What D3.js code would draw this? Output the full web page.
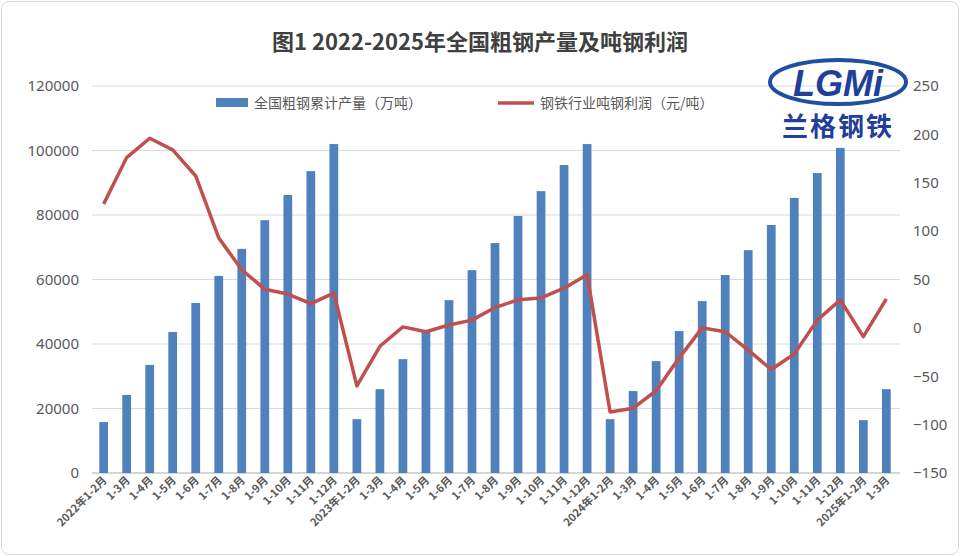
<!DOCTYPE html>
<html><head><meta charset="utf-8">
<script src="https://cdn.jsdelivr.net/npm/d3@7"></script>
<style>body{margin:0;background:#fff;font-family:"Noto Sans CJK SC","Noto Sans",sans-serif;}</style>
</head><body><svg id="c" width="960" height="556"></svg>
<script>
// chart data
var years = ["2022年", "2023年", "2024年", "2025年"];
var months = ["1-2月","1-3月","1-4月","1-5月","1-6月","1-7月","1-8月","1-9月","1-10月","1-11月","1-12月"];
var categories = [];
years.forEach(function (y, i) {
  var ms = i === 3 ? months.slice(0, 2) : months;
  ms.forEach(function (m, j) { categories.push(j === 0 ? y + m : m); });
});
var output = [15800,24200,33500,43700,52700,61100,69500,78400,86200,93600,102000,
  16700,26000,35300,44300,53600,62900,71300,79700,87400,95500,102000,
  16700,25400,34700,44000,53300,61400,69100,76900,85300,93000,100800,
  16400,26000];
var profit = [128,176,196,184,157,93,60,40,35,25,36,
  -60,-19,1,-4,3,8,21,29,31,41,55,
  -87,-83,-65,-31,0,-4,-23,-43,-27,8,29,
  -9,30];
var leftTicks = [0,20000,40000,60000,80000,100000,120000];
var rightTicks = [-150,-100,-50,0,50,100,150,200,250];

var svg = d3.select("#c");
svg.append("rect").attr("x",1.5).attr("y",1.5).attr("width",957).attr("height",553)
  .attr("rx",8).attr("fill","#fff").attr("stroke","#d9d9d9");

var L = 92, R = 900, T = 86, B = 473;
// categories repeat across years, so band on the index
var x = d3.scaleBand().domain(d3.range(categories.length)).range([L - 7, R + 5]).padding(0.62);
var cx = function (i) { return x(i) + x.bandwidth() / 2; };
var yl = d3.scaleLinear().domain([0,120000]).range([B,T]);
var yr = d3.scaleLinear().domain([-150,250]).range([B,T]);

svg.append("text").attr("x",480).attr("y",50).attr("text-anchor","middle")
  .attr("font-size",22).attr("font-weight","bold").attr("fill","#404040")
  .text("图1 2022-2025年全国粗钢产量及吨钢利润");

// grid
svg.append("g").selectAll("line").data(leftTicks).join("line")
  .attr("x1",L).attr("x2",R).attr("y1",function(d){return yl(d);}).attr("y2",function(d){return yl(d);})
  .attr("stroke","#d9d9d9");

var gl = svg.append("g").attr("transform","translate("+(L-10)+",0)")
  .call(d3.axisLeft(yl).tickValues(leftTicks).tickSize(0).tickFormat(d3.format("d")));
var gr = svg.append("g").attr("transform","translate("+(R+10)+",0)")
  .call(d3.axisRight(yr).tickValues(rightTicks).tickSize(0));
[gl, gr].forEach(function (g) {
  g.select(".domain").remove();
  g.selectAll("text").attr("font-size",15).attr("fill","#595959")
    .attr("font-family","Noto Sans, sans-serif");
});

svg.append("line").attr("x1",L).attr("x2",R).attr("y1",B).attr("y2",B).attr("stroke","#bfbfbf");

svg.append("g").selectAll("rect").data(output).join("rect")
  .attr("x",function(d,i){return x(i);})
  .attr("width",x.bandwidth())
  .attr("y",function(d){return yl(d);})
  .attr("height",function(d){return B - yl(d);})
  .attr("fill","#4f81bd");

var line = d3.line().x(function(d,i){return cx(i);}).y(function(d){return yr(d);});
svg.append("path").datum(profit).attr("d",line).attr("fill","none")
  .attr("stroke","#c0504d").attr("stroke-width",3.5).attr("stroke-linejoin","round");

// x labels
svg.append("g").selectAll("text").data(categories).join("text")
  .attr("transform",function(d,i){return "translate("+(cx(i)+4)+","+(B+8)+") rotate(-45)";})
  .attr("text-anchor","end").attr("font-size",11).attr("font-weight","bold").attr("fill","#595959")
  .text(function(d){return d;});

// legend
svg.append("rect").attr("x",216).attr("y",98).attr("width",32).attr("height",9).attr("fill","#4f81bd");
svg.append("text").attr("x",254).attr("y",108).attr("font-size",14).attr("fill","#595959").text("全国粗钢累计产量（万吨）");
svg.append("line").attr("x1",498).attr("x2",534).attr("y1",103).attr("y2",103).attr("stroke","#c0504d").attr("stroke-width",3.5);
svg.append("text").attr("x",540).attr("y",108).attr("font-size",14).attr("fill","#595959").text("钢铁行业吨钢利润（元/吨）");

// logo
var lg = svg.append("g");
lg.append("ellipse").attr("cx",838).attr("cy",82).attr("rx",68).attr("ry",22)
  .attr("fill","none").attr("stroke","#1f4fa0").attr("stroke-width",4);
lg.append("text").attr("x",838).attr("y",96).attr("text-anchor","middle").attr("font-size",36)
  .attr("font-weight","bold").attr("font-style","italic").attr("fill","#1f3f9a")
  .attr("font-family","Liberation Sans, sans-serif").text("LGMi");
lg.append("text").attr("x",838).attr("y",136).attr("text-anchor","middle").attr("font-size",26)
  .attr("font-weight","bold").attr("fill","#1f3f9a").attr("letter-spacing",2).text("兰格钢铁");
</script></body></html>
